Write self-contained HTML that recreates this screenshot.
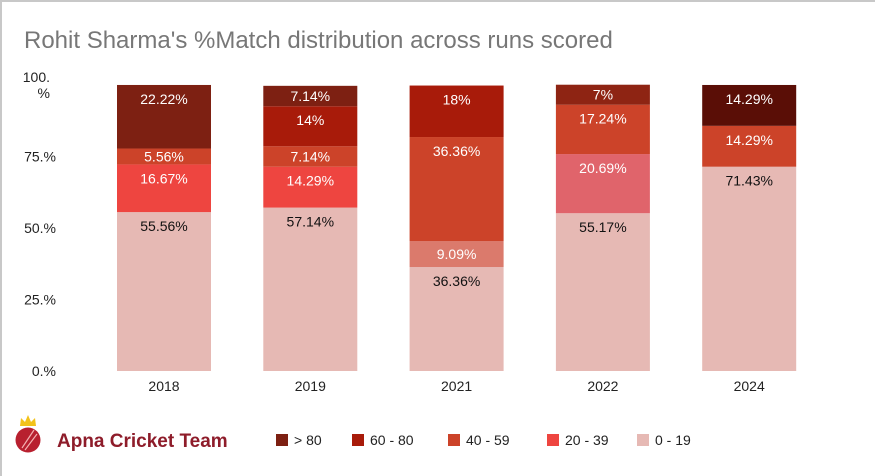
<!DOCTYPE html>
<html><head><meta charset="utf-8"><style>
body{margin:0;background:#fff;font-family:"Liberation Sans",sans-serif}
#wrap{position:relative;width:875px;height:476px;overflow:hidden}
</style></head><body>
<div id="wrap">
<svg id="chart" width="875" height="476">
<rect x="1" y="1" width="880" height="480" fill="#fff" stroke="#c8c8c8" stroke-width="2"/>
<text x="24" y="48" font-size="24" fill="#777">Rohit Sharma's %Match distribution across runs scored</text>
<g id="yaxis"></g>
<g id="bars"></g>
<g id="xaxis"></g>
<g>
<path d="M20 426 L21 418 L25 422 L28 415 L31 422 L35 418 L36 426 Z" fill="#f2c21b"/>
<circle cx="28" cy="440" r="12.5" fill="#b8202f"/>
<path d="M22 448 L34 430 M25 450 L37 434" stroke="#f3b0b0" stroke-width="1.2"/>
<text x="57" y="447" font-size="19" font-weight="bold" fill="#8e1c2a">Apna Cricket Team</text>
</g>
<g id="legend"></g>
</svg>
</div>
<script>
const years = ["2018","2019","2021","2022","2024"];
const series = ["0 - 19","20 - 39","40 - 59","60 - 80","> 80"];
const s0_19 = [55.56,57.14,36.36,55.17,71.43];
const s20_39 = [16.67,14.29,9.09,20.69,0];
const s40_59 = [5.56,7.14,36.36,17.24,14.29];
const s60_80 = [0,14,18,0,0];
const s80 = [22.22,7.14,0,7,14.29];
const yTicks = [0,25,50,75,100];
const yTickLabels = ["0.%","25.%","50.%","75.%","100.%"];
const data=[s0_19,s20_39,s40_59,s60_80,s80];
const colors=["#e6b9b4","#ee4540","#cc4329","#a81b0a","#7d2012"];
const override={"2-1":"#db7a6c","3-1":"#e0646b","3-4":"#8e2413","4-4":"#5a0e06"};
const ns="http://www.w3.org/2000/svg";
const y0=371,y1=85;
const yScale=v=>y0-(v/100)*(y0-y1);
const bx=i=>117+i*146.3, bw=94;
function mk(t,a,p){const e=document.createElementNS(ns,t);for(const k in a)e.setAttribute(k,a[k]);p.appendChild(e);return e;}
const ya=document.getElementById('yaxis');
yTicks.forEach((v,i)=>{
  if(v===100){
    const t=mk('text',{x:50,y:yScale(v)-3,'font-size':14,fill:'#222','text-anchor':'end'},ya);t.textContent='100.';
    
    
    const t2=mk('text',{x:50,y:yScale(v)+13,'font-size':14,fill:'#222','text-anchor':'end'},ya);t2.textContent='%';
    
    
  } else {
    const t=mk('text',{x:56,y:yScale(v)+5,'font-size':14,fill:'#222','text-anchor':'end'},ya);t.textContent=yTickLabels[i];
    
    
  }
});
const bg=document.getElementById('bars'), xa=document.getElementById('xaxis');
years.forEach((yr,i)=>{
  let cum=0;
  data.forEach((s,j)=>{
    const v=s[i]; if(!v) return;
    const top=yScale(cum+v), bot=yScale(cum); cum+=v;
    const r=mk('rect',{x:bx(i),y:top,width:bw,height:bot-top,fill:override[i+'-'+j]||colors[j]},bg);
    
    
    const h=bot-top;
    const t=mk('text',{x:bx(i)+bw/2,y:top+Math.min(h/2,14)+5,'font-size':14,'text-anchor':'middle',fill:j===0?'#111':'#fff'},bg);
    t.textContent=(Math.round(v*100)/100)+'%';
    
    
  });
  const xl=mk('text',{x:bx(i)+bw/2,y:391,'font-size':14,'text-anchor':'middle',fill:'#222'},xa);
  xl.textContent=yr;
  
  
});
const lg=document.getElementById('legend');
const lx=[276,352,448,547,637];
[4,3,2,1,0].forEach((j,k)=>{
  const r=mk('rect',{x:lx[k],y:434,width:12,height:12,fill:colors[j]},lg);
  
  
  const t=mk('text',{x:lx[k]+18,y:445,'font-size':14,fill:'#222'},lg);
  t.textContent=series[j];
  
  
});
</script>
</body></html>
